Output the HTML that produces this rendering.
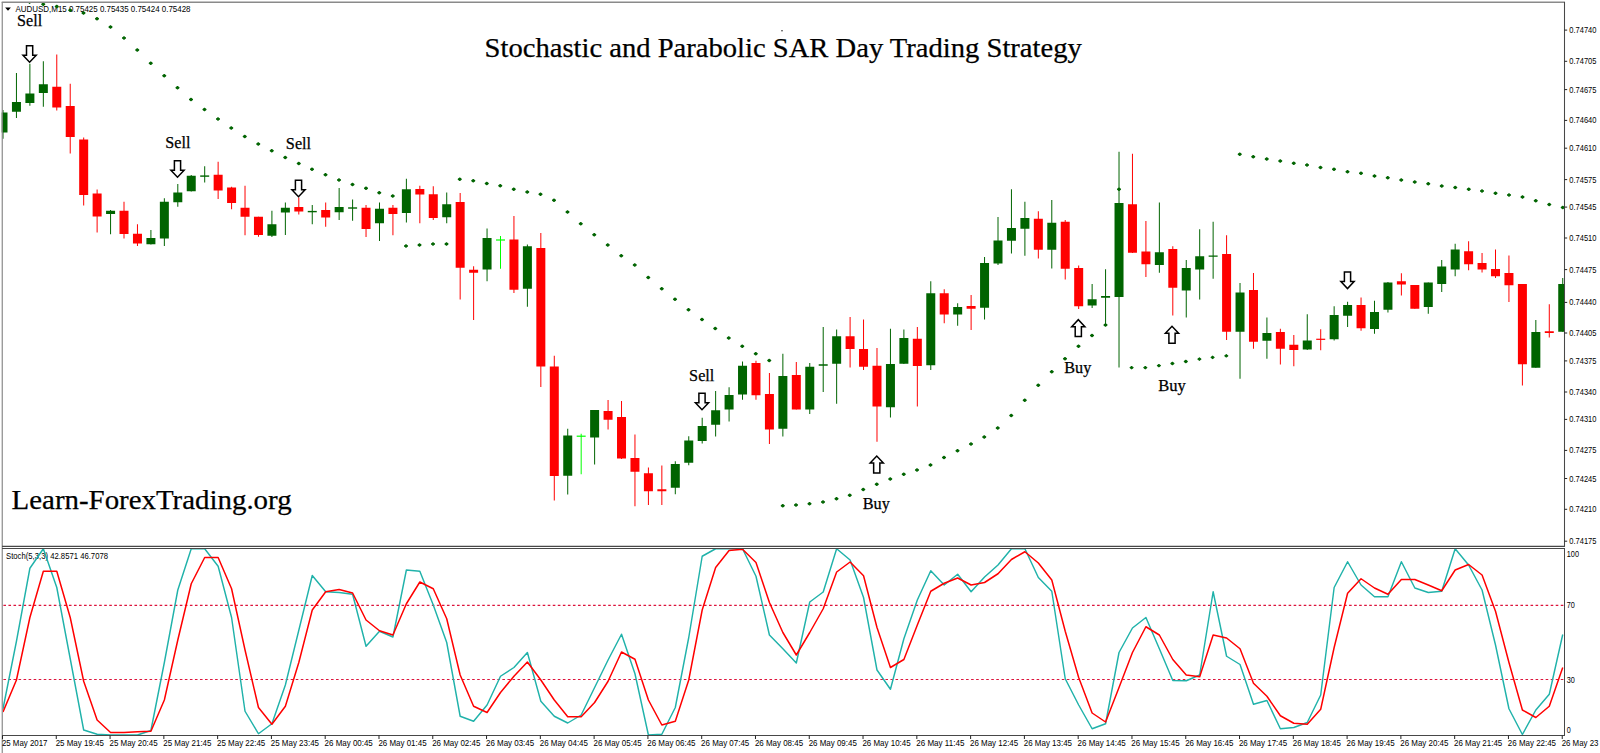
<!DOCTYPE html>
<html lang="en"><head><meta charset="utf-8"><title>Stochastic and Parabolic SAR Day Trading Strategy</title>
<style>html,body{margin:0;padding:0;background:#fff;overflow:hidden}svg{display:block}.ax{font-family:"Liberation Sans",sans-serif;font-size:8.4px;fill:#000}.pr{font-family:"Liberation Sans",sans-serif;font-size:9.2px;fill:#000}.se{font-family:"Liberation Serif",serif;fill:#000;stroke:#000;stroke-width:0.25px}</style></head><body>
<svg width="1600" height="753" viewBox="0 0 1600 753">
<rect width="1600" height="753" fill="#fff"/>
<defs><clipPath id="cm"><rect x="1.7" y="2.5" width="1562.8" height="543.5"/></clipPath><clipPath id="cs"><rect x="3" y="548.5" width="1561.5" height="186.8"/></clipPath><g id="ad"><path d="M-3.1 -8.2 H3.1 V1.3 H6.6 L0 8.3 L-6.6 1.3 H-3.1 Z" fill="#fff" stroke="#000" stroke-width="1.5" stroke-linejoin="miter"/></g><g id="au"><path d="M-3.1 8.6 H3.1 V-1.3 H6.6 L0 -8.3 L-6.6 -1.3 H-3.1 Z" fill="#fff" stroke="#000" stroke-width="1.5" stroke-linejoin="miter"/></g></defs>
<path d="M5.1 7.5 h5.8 l-2.9 3.3z" fill="#000"/>
<text class="ax" x="15.5" y="12.1" textLength="175" lengthAdjust="spacingAndGlyphs">AUDUSD,M15  0.75425 0.75435 0.75424 0.75428</text>
<text class="ax" x="6" y="559.2" textLength="102" lengthAdjust="spacingAndGlyphs">Stoch(5,3,3) 42.8571 46.7078</text>
<g clip-path="url(#cm)">
<line x1="3.00" y1="110.00" x2="3.00" y2="138.75" stroke="#006400" stroke-width="1"/>
<rect x="-1.50" y="112.50" width="9" height="20.00" fill="#006400"/>
<line x1="16.45" y1="73.00" x2="16.45" y2="118.00" stroke="#006400" stroke-width="1"/>
<rect x="11.95" y="102.00" width="9" height="9.75" fill="#006400"/>
<line x1="29.89" y1="63.75" x2="29.89" y2="105.75" stroke="#006400" stroke-width="1"/>
<rect x="25.39" y="93.50" width="9" height="9.50" fill="#006400"/>
<line x1="43.34" y1="61.25" x2="43.34" y2="106.75" stroke="#006400" stroke-width="1"/>
<rect x="38.84" y="84.25" width="9" height="8.75" fill="#006400"/>
<line x1="56.78" y1="54.50" x2="56.78" y2="110.50" stroke="#ff0000" stroke-width="1"/>
<rect x="52.28" y="86.75" width="9" height="20.75" fill="#ff0000"/>
<line x1="70.23" y1="83.75" x2="70.23" y2="153.50" stroke="#ff0000" stroke-width="1"/>
<rect x="65.73" y="106.00" width="9" height="31.00" fill="#ff0000"/>
<line x1="83.68" y1="137.50" x2="83.68" y2="205.50" stroke="#ff0000" stroke-width="1"/>
<rect x="79.18" y="139.50" width="9" height="55.50" fill="#ff0000"/>
<line x1="97.12" y1="189.50" x2="97.12" y2="232.50" stroke="#ff0000" stroke-width="1"/>
<rect x="92.62" y="193.50" width="9" height="23.00" fill="#ff0000"/>
<line x1="110.57" y1="210.00" x2="110.57" y2="234.25" stroke="#006400" stroke-width="1"/>
<rect x="106.07" y="210.75" width="9" height="3.25" fill="#006400"/>
<line x1="124.01" y1="201.75" x2="124.01" y2="238.50" stroke="#ff0000" stroke-width="1"/>
<rect x="119.51" y="210.75" width="9" height="23.25" fill="#ff0000"/>
<line x1="137.46" y1="224.25" x2="137.46" y2="246.00" stroke="#ff0000" stroke-width="1"/>
<rect x="132.96" y="233.75" width="9" height="9.75" fill="#ff0000"/>
<line x1="150.91" y1="230.00" x2="150.91" y2="244.50" stroke="#006400" stroke-width="1"/>
<rect x="146.41" y="238.00" width="9" height="6.25" fill="#006400"/>
<line x1="164.35" y1="198.25" x2="164.35" y2="246.00" stroke="#006400" stroke-width="1"/>
<rect x="159.85" y="201.75" width="9" height="36.75" fill="#006400"/>
<line x1="177.80" y1="184.00" x2="177.80" y2="206.75" stroke="#006400" stroke-width="1"/>
<rect x="173.30" y="192.50" width="9" height="9.75" fill="#006400"/>
<line x1="191.24" y1="175.00" x2="191.24" y2="191.50" stroke="#006400" stroke-width="1"/>
<rect x="186.74" y="175.75" width="9" height="15.50" fill="#006400"/>
<line x1="204.69" y1="166.25" x2="204.69" y2="182.50" stroke="#006400" stroke-width="1"/>
<rect x="200.19" y="175.40" width="9" height="1.40" fill="#006400"/>
<line x1="218.14" y1="161.75" x2="218.14" y2="199.00" stroke="#ff0000" stroke-width="1"/>
<rect x="213.64" y="174.75" width="9" height="15.75" fill="#ff0000"/>
<line x1="231.58" y1="186.75" x2="231.58" y2="209.25" stroke="#ff0000" stroke-width="1"/>
<rect x="227.08" y="187.50" width="9" height="15.50" fill="#ff0000"/>
<line x1="245.03" y1="185.75" x2="245.03" y2="235.25" stroke="#ff0000" stroke-width="1"/>
<rect x="240.53" y="207.75" width="9" height="9.00" fill="#ff0000"/>
<line x1="258.47" y1="216.75" x2="258.47" y2="236.75" stroke="#ff0000" stroke-width="1"/>
<rect x="253.97" y="216.75" width="9" height="18.25" fill="#ff0000"/>
<line x1="271.92" y1="210.75" x2="271.92" y2="237.00" stroke="#006400" stroke-width="1"/>
<rect x="267.42" y="224.25" width="9" height="11.50" fill="#006400"/>
<line x1="285.37" y1="202.50" x2="285.37" y2="235.00" stroke="#006400" stroke-width="1"/>
<rect x="280.87" y="207.75" width="9" height="4.75" fill="#006400"/>
<line x1="298.81" y1="197.50" x2="298.81" y2="214.50" stroke="#ff0000" stroke-width="1"/>
<rect x="294.31" y="207.00" width="9" height="4.50" fill="#ff0000"/>
<line x1="312.26" y1="205.00" x2="312.26" y2="224.25" stroke="#006400" stroke-width="1"/>
<rect x="307.76" y="210.90" width="9" height="1.40" fill="#006400"/>
<line x1="325.70" y1="202.50" x2="325.70" y2="226.75" stroke="#ff0000" stroke-width="1"/>
<rect x="321.20" y="210.00" width="9" height="7.50" fill="#ff0000"/>
<line x1="339.15" y1="188.00" x2="339.15" y2="220.00" stroke="#006400" stroke-width="1"/>
<rect x="334.65" y="207.00" width="9" height="5.25" fill="#006400"/>
<line x1="352.60" y1="199.50" x2="352.60" y2="220.75" stroke="#006400" stroke-width="1"/>
<rect x="348.10" y="207.30" width="9" height="1.40" fill="#006400"/>
<line x1="366.04" y1="205.00" x2="366.04" y2="237.00" stroke="#ff0000" stroke-width="1"/>
<rect x="361.54" y="207.75" width="9" height="21.25" fill="#ff0000"/>
<line x1="379.49" y1="202.50" x2="379.49" y2="241.00" stroke="#006400" stroke-width="1"/>
<rect x="374.99" y="208.75" width="9" height="14.50" fill="#006400"/>
<line x1="392.93" y1="205.00" x2="392.93" y2="235.25" stroke="#ff0000" stroke-width="1"/>
<rect x="388.43" y="207.75" width="9" height="6.25" fill="#ff0000"/>
<line x1="406.38" y1="178.75" x2="406.38" y2="222.50" stroke="#006400" stroke-width="1"/>
<rect x="401.88" y="189.25" width="9" height="23.75" fill="#006400"/>
<line x1="419.83" y1="185.75" x2="419.83" y2="223.25" stroke="#ff0000" stroke-width="1"/>
<rect x="415.33" y="189.00" width="9" height="5.50" fill="#ff0000"/>
<line x1="433.27" y1="186.25" x2="433.27" y2="220.00" stroke="#ff0000" stroke-width="1"/>
<rect x="428.77" y="194.25" width="9" height="23.75" fill="#ff0000"/>
<line x1="446.72" y1="192.50" x2="446.72" y2="223.25" stroke="#006400" stroke-width="1"/>
<rect x="442.22" y="204.25" width="9" height="13.00" fill="#006400"/>
<line x1="460.16" y1="193.00" x2="460.16" y2="299.50" stroke="#ff0000" stroke-width="1"/>
<rect x="455.66" y="202.00" width="9" height="65.75" fill="#ff0000"/>
<line x1="473.61" y1="266.25" x2="473.61" y2="320.00" stroke="#ff0000" stroke-width="1"/>
<rect x="469.11" y="269.75" width="9" height="3.00" fill="#ff0000"/>
<line x1="487.06" y1="228.50" x2="487.06" y2="281.25" stroke="#006400" stroke-width="1"/>
<rect x="482.56" y="238.00" width="9" height="31.50" fill="#006400"/>
<line x1="500.50" y1="236.00" x2="500.50" y2="268.75" stroke="#00ff00" stroke-width="1"/>
<rect x="496.00" y="239.40" width="9" height="1.20" fill="#00ff00"/>
<line x1="513.95" y1="216.00" x2="513.95" y2="293.00" stroke="#ff0000" stroke-width="1"/>
<rect x="509.45" y="239.50" width="9" height="50.25" fill="#ff0000"/>
<line x1="527.39" y1="244.50" x2="527.39" y2="306.75" stroke="#006400" stroke-width="1"/>
<rect x="522.89" y="246.25" width="9" height="42.50" fill="#006400"/>
<line x1="540.84" y1="233.00" x2="540.84" y2="387.00" stroke="#ff0000" stroke-width="1"/>
<rect x="536.34" y="248.00" width="9" height="118.50" fill="#ff0000"/>
<line x1="554.29" y1="355.75" x2="554.29" y2="500.50" stroke="#ff0000" stroke-width="1"/>
<rect x="549.79" y="366.50" width="9" height="109.50" fill="#ff0000"/>
<line x1="567.73" y1="428.75" x2="567.73" y2="494.50" stroke="#006400" stroke-width="1"/>
<rect x="563.23" y="435.50" width="9" height="40.25" fill="#006400"/>
<line x1="581.18" y1="433.75" x2="581.18" y2="474.25" stroke="#00ff00" stroke-width="1"/>
<rect x="576.68" y="435.60" width="9" height="1.20" fill="#00ff00"/>
<line x1="594.62" y1="410.00" x2="594.62" y2="464.50" stroke="#006400" stroke-width="1"/>
<rect x="590.12" y="410.00" width="9" height="27.50" fill="#006400"/>
<line x1="608.07" y1="400.00" x2="608.07" y2="429.50" stroke="#ff0000" stroke-width="1"/>
<rect x="603.57" y="411.00" width="9" height="8.75" fill="#ff0000"/>
<line x1="621.52" y1="401.00" x2="621.52" y2="459.00" stroke="#ff0000" stroke-width="1"/>
<rect x="617.02" y="417.00" width="9" height="41.50" fill="#ff0000"/>
<line x1="634.96" y1="434.50" x2="634.96" y2="506.25" stroke="#ff0000" stroke-width="1"/>
<rect x="630.46" y="458.00" width="9" height="13.75" fill="#ff0000"/>
<line x1="648.41" y1="467.50" x2="648.41" y2="505.00" stroke="#ff0000" stroke-width="1"/>
<rect x="643.91" y="473.25" width="9" height="18.00" fill="#ff0000"/>
<line x1="661.85" y1="465.50" x2="661.85" y2="505.00" stroke="#ff0000" stroke-width="1"/>
<rect x="657.35" y="489.25" width="9" height="2.00" fill="#ff0000"/>
<line x1="675.30" y1="461.25" x2="675.30" y2="494.25" stroke="#006400" stroke-width="1"/>
<rect x="670.80" y="464.00" width="9" height="23.75" fill="#006400"/>
<line x1="688.75" y1="436.25" x2="688.75" y2="465.25" stroke="#006400" stroke-width="1"/>
<rect x="684.25" y="440.50" width="9" height="22.25" fill="#006400"/>
<line x1="702.19" y1="417.75" x2="702.19" y2="443.50" stroke="#006400" stroke-width="1"/>
<rect x="697.69" y="426.00" width="9" height="15.00" fill="#006400"/>
<line x1="715.64" y1="391.00" x2="715.64" y2="436.50" stroke="#006400" stroke-width="1"/>
<rect x="711.14" y="410.25" width="9" height="14.50" fill="#006400"/>
<line x1="729.08" y1="387.25" x2="729.08" y2="421.50" stroke="#006400" stroke-width="1"/>
<rect x="724.58" y="395.00" width="9" height="14.50" fill="#006400"/>
<line x1="742.53" y1="361.50" x2="742.53" y2="399.75" stroke="#006400" stroke-width="1"/>
<rect x="738.03" y="365.75" width="9" height="28.75" fill="#006400"/>
<line x1="755.98" y1="360.75" x2="755.98" y2="399.75" stroke="#ff0000" stroke-width="1"/>
<rect x="751.48" y="363.00" width="9" height="32.25" fill="#ff0000"/>
<line x1="769.42" y1="373.00" x2="769.42" y2="444.00" stroke="#ff0000" stroke-width="1"/>
<rect x="764.92" y="394.00" width="9" height="35.50" fill="#ff0000"/>
<line x1="782.87" y1="353.75" x2="782.87" y2="436.50" stroke="#006400" stroke-width="1"/>
<rect x="778.37" y="376.00" width="9" height="52.75" fill="#006400"/>
<line x1="796.31" y1="362.00" x2="796.31" y2="409.50" stroke="#ff0000" stroke-width="1"/>
<rect x="791.81" y="375.00" width="9" height="34.50" fill="#ff0000"/>
<line x1="809.76" y1="363.00" x2="809.76" y2="414.00" stroke="#006400" stroke-width="1"/>
<rect x="805.26" y="366.75" width="9" height="42.75" fill="#006400"/>
<line x1="823.21" y1="327.00" x2="823.21" y2="392.00" stroke="#006400" stroke-width="1"/>
<rect x="818.71" y="364.25" width="9" height="1.50" fill="#006400"/>
<line x1="836.65" y1="329.50" x2="836.65" y2="403.75" stroke="#006400" stroke-width="1"/>
<rect x="832.15" y="336.25" width="9" height="27.50" fill="#006400"/>
<line x1="850.10" y1="317.00" x2="850.10" y2="367.50" stroke="#ff0000" stroke-width="1"/>
<rect x="845.60" y="336.25" width="9" height="12.75" fill="#ff0000"/>
<line x1="863.54" y1="319.50" x2="863.54" y2="370.00" stroke="#ff0000" stroke-width="1"/>
<rect x="859.04" y="349.00" width="9" height="17.75" fill="#ff0000"/>
<line x1="876.99" y1="348.00" x2="876.99" y2="441.75" stroke="#ff0000" stroke-width="1"/>
<rect x="872.49" y="365.75" width="9" height="40.75" fill="#ff0000"/>
<line x1="890.44" y1="328.75" x2="890.44" y2="417.50" stroke="#006400" stroke-width="1"/>
<rect x="885.94" y="364.00" width="9" height="43.25" fill="#006400"/>
<line x1="903.88" y1="329.50" x2="903.88" y2="364.00" stroke="#006400" stroke-width="1"/>
<rect x="899.38" y="338.00" width="9" height="25.75" fill="#006400"/>
<line x1="917.33" y1="327.00" x2="917.33" y2="406.50" stroke="#ff0000" stroke-width="1"/>
<rect x="912.83" y="338.75" width="9" height="27.25" fill="#ff0000"/>
<line x1="930.77" y1="281.25" x2="930.77" y2="370.00" stroke="#006400" stroke-width="1"/>
<rect x="926.27" y="293.25" width="9" height="72.00" fill="#006400"/>
<line x1="944.22" y1="289.25" x2="944.22" y2="323.25" stroke="#ff0000" stroke-width="1"/>
<rect x="939.72" y="293.25" width="9" height="21.25" fill="#ff0000"/>
<line x1="957.67" y1="303.25" x2="957.67" y2="325.75" stroke="#006400" stroke-width="1"/>
<rect x="953.17" y="307.00" width="9" height="7.50" fill="#006400"/>
<line x1="971.11" y1="295.00" x2="971.11" y2="330.00" stroke="#ff0000" stroke-width="1"/>
<rect x="966.61" y="306.00" width="9" height="2.75" fill="#ff0000"/>
<line x1="984.56" y1="257.00" x2="984.56" y2="319.50" stroke="#006400" stroke-width="1"/>
<rect x="980.06" y="263.00" width="9" height="44.75" fill="#006400"/>
<line x1="998.00" y1="217.00" x2="998.00" y2="265.00" stroke="#006400" stroke-width="1"/>
<rect x="993.50" y="240.50" width="9" height="23.00" fill="#006400"/>
<line x1="1011.45" y1="189.25" x2="1011.45" y2="253.50" stroke="#006400" stroke-width="1"/>
<rect x="1006.95" y="228.00" width="9" height="12.75" fill="#006400"/>
<line x1="1024.90" y1="201.75" x2="1024.90" y2="255.75" stroke="#006400" stroke-width="1"/>
<rect x="1020.40" y="218.00" width="9" height="10.75" fill="#006400"/>
<line x1="1038.34" y1="211.25" x2="1038.34" y2="258.50" stroke="#ff0000" stroke-width="1"/>
<rect x="1033.84" y="218.75" width="9" height="31.00" fill="#ff0000"/>
<line x1="1051.79" y1="200.00" x2="1051.79" y2="268.50" stroke="#006400" stroke-width="1"/>
<rect x="1047.29" y="222.75" width="9" height="27.00" fill="#006400"/>
<line x1="1065.23" y1="220.00" x2="1065.23" y2="279.50" stroke="#ff0000" stroke-width="1"/>
<rect x="1060.73" y="221.75" width="9" height="47.00" fill="#ff0000"/>
<line x1="1078.68" y1="265.50" x2="1078.68" y2="309.00" stroke="#ff0000" stroke-width="1"/>
<rect x="1074.18" y="268.00" width="9" height="38.25" fill="#ff0000"/>
<line x1="1092.13" y1="284.00" x2="1092.13" y2="308.00" stroke="#006400" stroke-width="1"/>
<rect x="1087.63" y="299.25" width="9" height="6.25" fill="#006400"/>
<line x1="1105.57" y1="269.25" x2="1105.57" y2="325.00" stroke="#006400" stroke-width="1"/>
<rect x="1101.07" y="296.00" width="9" height="1.75" fill="#006400"/>
<line x1="1119.02" y1="151.75" x2="1119.02" y2="367.50" stroke="#006400" stroke-width="1"/>
<rect x="1114.52" y="203.00" width="9" height="94.00" fill="#006400"/>
<line x1="1132.46" y1="153.75" x2="1132.46" y2="253.00" stroke="#ff0000" stroke-width="1"/>
<rect x="1127.96" y="204.25" width="9" height="48.50" fill="#ff0000"/>
<line x1="1145.91" y1="221.00" x2="1145.91" y2="277.00" stroke="#ff0000" stroke-width="1"/>
<rect x="1141.41" y="251.50" width="9" height="12.75" fill="#ff0000"/>
<line x1="1159.36" y1="202.50" x2="1159.36" y2="272.75" stroke="#006400" stroke-width="1"/>
<rect x="1154.86" y="252.25" width="9" height="12.75" fill="#006400"/>
<line x1="1172.80" y1="246.25" x2="1172.80" y2="315.50" stroke="#ff0000" stroke-width="1"/>
<rect x="1168.30" y="249.00" width="9" height="38.75" fill="#ff0000"/>
<line x1="1186.25" y1="260.00" x2="1186.25" y2="317.50" stroke="#006400" stroke-width="1"/>
<rect x="1181.75" y="268.00" width="9" height="22.50" fill="#006400"/>
<line x1="1199.69" y1="229.25" x2="1199.69" y2="299.50" stroke="#006400" stroke-width="1"/>
<rect x="1195.19" y="256.25" width="9" height="13.25" fill="#006400"/>
<line x1="1213.14" y1="221.75" x2="1213.14" y2="278.75" stroke="#006400" stroke-width="1"/>
<rect x="1208.64" y="255.50" width="9" height="1.25" fill="#006400"/>
<line x1="1226.59" y1="235.25" x2="1226.59" y2="340.00" stroke="#ff0000" stroke-width="1"/>
<rect x="1222.09" y="254.00" width="9" height="77.75" fill="#ff0000"/>
<line x1="1240.03" y1="283.00" x2="1240.03" y2="378.75" stroke="#006400" stroke-width="1"/>
<rect x="1235.53" y="292.50" width="9" height="39.25" fill="#006400"/>
<line x1="1253.48" y1="273.00" x2="1253.48" y2="348.75" stroke="#ff0000" stroke-width="1"/>
<rect x="1248.98" y="290.00" width="9" height="51.75" fill="#ff0000"/>
<line x1="1266.92" y1="317.50" x2="1266.92" y2="358.75" stroke="#006400" stroke-width="1"/>
<rect x="1262.42" y="333.00" width="9" height="7.75" fill="#006400"/>
<line x1="1280.37" y1="328.75" x2="1280.37" y2="364.50" stroke="#ff0000" stroke-width="1"/>
<rect x="1275.87" y="332.00" width="9" height="16.75" fill="#ff0000"/>
<line x1="1293.82" y1="335.00" x2="1293.82" y2="366.25" stroke="#ff0000" stroke-width="1"/>
<rect x="1289.32" y="344.75" width="9" height="5.25" fill="#ff0000"/>
<line x1="1307.26" y1="314.25" x2="1307.26" y2="350.00" stroke="#006400" stroke-width="1"/>
<rect x="1302.76" y="340.50" width="9" height="9.00" fill="#006400"/>
<line x1="1320.71" y1="329.25" x2="1320.71" y2="350.25" stroke="#ff0000" stroke-width="1"/>
<rect x="1316.21" y="338.70" width="9" height="1.20" fill="#ff0000"/>
<line x1="1334.15" y1="306.25" x2="1334.15" y2="340.50" stroke="#006400" stroke-width="1"/>
<rect x="1329.65" y="315.00" width="9" height="24.25" fill="#006400"/>
<line x1="1347.60" y1="301.75" x2="1347.60" y2="327.00" stroke="#006400" stroke-width="1"/>
<rect x="1343.10" y="305.00" width="9" height="10.75" fill="#006400"/>
<line x1="1361.05" y1="297.50" x2="1361.05" y2="330.75" stroke="#ff0000" stroke-width="1"/>
<rect x="1356.55" y="305.00" width="9" height="23.25" fill="#ff0000"/>
<line x1="1374.49" y1="300.75" x2="1374.49" y2="333.75" stroke="#006400" stroke-width="1"/>
<rect x="1369.99" y="312.00" width="9" height="17.00" fill="#006400"/>
<line x1="1387.94" y1="282.00" x2="1387.94" y2="312.50" stroke="#006400" stroke-width="1"/>
<rect x="1383.44" y="282.50" width="9" height="27.25" fill="#006400"/>
<line x1="1401.38" y1="273.25" x2="1401.38" y2="295.50" stroke="#ff0000" stroke-width="1"/>
<rect x="1396.88" y="281.25" width="9" height="3.25" fill="#ff0000"/>
<line x1="1414.83" y1="285.00" x2="1414.83" y2="308.75" stroke="#ff0000" stroke-width="1"/>
<rect x="1410.33" y="285.00" width="9" height="23.75" fill="#ff0000"/>
<line x1="1428.28" y1="282.50" x2="1428.28" y2="313.75" stroke="#006400" stroke-width="1"/>
<rect x="1423.78" y="282.50" width="9" height="24.50" fill="#006400"/>
<line x1="1441.72" y1="260.00" x2="1441.72" y2="292.00" stroke="#006400" stroke-width="1"/>
<rect x="1437.22" y="266.50" width="9" height="17.50" fill="#006400"/>
<line x1="1455.17" y1="243.75" x2="1455.17" y2="276.25" stroke="#006400" stroke-width="1"/>
<rect x="1450.67" y="249.50" width="9" height="20.00" fill="#006400"/>
<line x1="1468.61" y1="241.25" x2="1468.61" y2="270.25" stroke="#ff0000" stroke-width="1"/>
<rect x="1464.11" y="251.25" width="9" height="13.00" fill="#ff0000"/>
<line x1="1482.06" y1="253.00" x2="1482.06" y2="272.50" stroke="#ff0000" stroke-width="1"/>
<rect x="1477.56" y="263.00" width="9" height="6.50" fill="#ff0000"/>
<line x1="1495.51" y1="249.50" x2="1495.51" y2="278.00" stroke="#ff0000" stroke-width="1"/>
<rect x="1491.01" y="269.00" width="9" height="7.25" fill="#ff0000"/>
<line x1="1508.95" y1="255.50" x2="1508.95" y2="302.00" stroke="#ff0000" stroke-width="1"/>
<rect x="1504.45" y="273.00" width="9" height="12.25" fill="#ff0000"/>
<line x1="1522.40" y1="284.00" x2="1522.40" y2="385.50" stroke="#ff0000" stroke-width="1"/>
<rect x="1517.90" y="284.00" width="9" height="80.25" fill="#ff0000"/>
<line x1="1535.84" y1="320.00" x2="1535.84" y2="367.75" stroke="#006400" stroke-width="1"/>
<rect x="1531.34" y="332.00" width="9" height="35.75" fill="#006400"/>
<line x1="1549.29" y1="304.25" x2="1549.29" y2="337.50" stroke="#ff0000" stroke-width="1"/>
<rect x="1544.79" y="331.25" width="9" height="1.75" fill="#ff0000"/>
<line x1="1562.74" y1="278.00" x2="1562.74" y2="331.75" stroke="#006400" stroke-width="1"/>
<rect x="1558.24" y="284.00" width="9" height="47.75" fill="#006400"/>
<path d="M28.05 2.20 l1.55 -1.25 l1.55 1.25 l-1.55 1.25z" fill="#006400" stroke="#006400" stroke-width="1.05" stroke-linejoin="round"/>
<path d="M41.70 4.25 l1.55 -1.25 l1.55 1.25 l-1.55 1.25z" fill="#006400" stroke="#006400" stroke-width="1.05" stroke-linejoin="round"/>
<path d="M55.20 6.50 l1.55 -1.25 l1.55 1.25 l-1.55 1.25z" fill="#006400" stroke="#006400" stroke-width="1.05" stroke-linejoin="round"/>
<path d="M68.70 10.25 l1.55 -1.25 l1.55 1.25 l-1.55 1.25z" fill="#006400" stroke="#006400" stroke-width="1.05" stroke-linejoin="round"/>
<path d="M81.95 13.00 l1.55 -1.25 l1.55 1.25 l-1.55 1.25z" fill="#006400" stroke="#006400" stroke-width="1.05" stroke-linejoin="round"/>
<path d="M95.45 18.75 l1.55 -1.25 l1.55 1.25 l-1.55 1.25z" fill="#006400" stroke="#006400" stroke-width="1.05" stroke-linejoin="round"/>
<path d="M108.95 27.00 l1.55 -1.25 l1.55 1.25 l-1.55 1.25z" fill="#006400" stroke="#006400" stroke-width="1.05" stroke-linejoin="round"/>
<path d="M122.45 38.00 l1.55 -1.25 l1.55 1.25 l-1.55 1.25z" fill="#006400" stroke="#006400" stroke-width="1.05" stroke-linejoin="round"/>
<path d="M135.70 50.00 l1.55 -1.25 l1.55 1.25 l-1.55 1.25z" fill="#006400" stroke="#006400" stroke-width="1.05" stroke-linejoin="round"/>
<path d="M149.20 63.25 l1.55 -1.25 l1.55 1.25 l-1.55 1.25z" fill="#006400" stroke="#006400" stroke-width="1.05" stroke-linejoin="round"/>
<path d="M162.70 75.75 l1.55 -1.25 l1.55 1.25 l-1.55 1.25z" fill="#006400" stroke="#006400" stroke-width="1.05" stroke-linejoin="round"/>
<path d="M175.95 87.75 l1.55 -1.25 l1.55 1.25 l-1.55 1.25z" fill="#006400" stroke="#006400" stroke-width="1.05" stroke-linejoin="round"/>
<path d="M189.45 99.50 l1.55 -1.25 l1.55 1.25 l-1.55 1.25z" fill="#006400" stroke="#006400" stroke-width="1.05" stroke-linejoin="round"/>
<path d="M202.95 109.50 l1.55 -1.25 l1.55 1.25 l-1.55 1.25z" fill="#006400" stroke="#006400" stroke-width="1.05" stroke-linejoin="round"/>
<path d="M216.45 119.00 l1.55 -1.25 l1.55 1.25 l-1.55 1.25z" fill="#006400" stroke="#006400" stroke-width="1.05" stroke-linejoin="round"/>
<path d="M229.70 128.00 l1.55 -1.25 l1.55 1.25 l-1.55 1.25z" fill="#006400" stroke="#006400" stroke-width="1.05" stroke-linejoin="round"/>
<path d="M243.20 136.50 l1.55 -1.25 l1.55 1.25 l-1.55 1.25z" fill="#006400" stroke="#006400" stroke-width="1.05" stroke-linejoin="round"/>
<path d="M256.70 144.00 l1.55 -1.25 l1.55 1.25 l-1.55 1.25z" fill="#006400" stroke="#006400" stroke-width="1.05" stroke-linejoin="round"/>
<path d="M270.20 150.75 l1.55 -1.25 l1.55 1.25 l-1.55 1.25z" fill="#006400" stroke="#006400" stroke-width="1.05" stroke-linejoin="round"/>
<path d="M283.70 157.50 l1.55 -1.25 l1.55 1.25 l-1.55 1.25z" fill="#006400" stroke="#006400" stroke-width="1.05" stroke-linejoin="round"/>
<path d="M297.20 163.50 l1.55 -1.25 l1.55 1.25 l-1.55 1.25z" fill="#006400" stroke="#006400" stroke-width="1.05" stroke-linejoin="round"/>
<path d="M310.45 169.25 l1.55 -1.25 l1.55 1.25 l-1.55 1.25z" fill="#006400" stroke="#006400" stroke-width="1.05" stroke-linejoin="round"/>
<path d="M323.95 174.75 l1.55 -1.25 l1.55 1.25 l-1.55 1.25z" fill="#006400" stroke="#006400" stroke-width="1.05" stroke-linejoin="round"/>
<path d="M337.45 180.00 l1.55 -1.25 l1.55 1.25 l-1.55 1.25z" fill="#006400" stroke="#006400" stroke-width="1.05" stroke-linejoin="round"/>
<path d="M350.95 184.50 l1.55 -1.25 l1.55 1.25 l-1.55 1.25z" fill="#006400" stroke="#006400" stroke-width="1.05" stroke-linejoin="round"/>
<path d="M364.45 188.25 l1.55 -1.25 l1.55 1.25 l-1.55 1.25z" fill="#006400" stroke="#006400" stroke-width="1.05" stroke-linejoin="round"/>
<path d="M377.70 192.75 l1.55 -1.25 l1.55 1.25 l-1.55 1.25z" fill="#006400" stroke="#006400" stroke-width="1.05" stroke-linejoin="round"/>
<path d="M391.20 196.00 l1.55 -1.25 l1.55 1.25 l-1.55 1.25z" fill="#006400" stroke="#006400" stroke-width="1.05" stroke-linejoin="round"/>
<path d="M404.45 246.00 l1.55 -1.25 l1.55 1.25 l-1.55 1.25z" fill="#006400" stroke="#006400" stroke-width="1.05" stroke-linejoin="round"/>
<path d="M417.95 245.00 l1.55 -1.25 l1.55 1.25 l-1.55 1.25z" fill="#006400" stroke="#006400" stroke-width="1.05" stroke-linejoin="round"/>
<path d="M431.45 244.00 l1.55 -1.25 l1.55 1.25 l-1.55 1.25z" fill="#006400" stroke="#006400" stroke-width="1.05" stroke-linejoin="round"/>
<path d="M444.95 244.00 l1.55 -1.25 l1.55 1.25 l-1.55 1.25z" fill="#006400" stroke="#006400" stroke-width="1.05" stroke-linejoin="round"/>
<path d="M458.20 179.25 l1.55 -1.25 l1.55 1.25 l-1.55 1.25z" fill="#006400" stroke="#006400" stroke-width="1.05" stroke-linejoin="round"/>
<path d="M471.70 180.75 l1.55 -1.25 l1.55 1.25 l-1.55 1.25z" fill="#006400" stroke="#006400" stroke-width="1.05" stroke-linejoin="round"/>
<path d="M485.20 183.50 l1.55 -1.25 l1.55 1.25 l-1.55 1.25z" fill="#006400" stroke="#006400" stroke-width="1.05" stroke-linejoin="round"/>
<path d="M498.70 185.75 l1.55 -1.25 l1.55 1.25 l-1.55 1.25z" fill="#006400" stroke="#006400" stroke-width="1.05" stroke-linejoin="round"/>
<path d="M512.20 189.25 l1.55 -1.25 l1.55 1.25 l-1.55 1.25z" fill="#006400" stroke="#006400" stroke-width="1.05" stroke-linejoin="round"/>
<path d="M525.70 192.00 l1.55 -1.25 l1.55 1.25 l-1.55 1.25z" fill="#006400" stroke="#006400" stroke-width="1.05" stroke-linejoin="round"/>
<path d="M538.95 194.25 l1.55 -1.25 l1.55 1.25 l-1.55 1.25z" fill="#006400" stroke="#006400" stroke-width="1.05" stroke-linejoin="round"/>
<path d="M552.45 200.25 l1.55 -1.25 l1.55 1.25 l-1.55 1.25z" fill="#006400" stroke="#006400" stroke-width="1.05" stroke-linejoin="round"/>
<path d="M565.95 212.00 l1.55 -1.25 l1.55 1.25 l-1.55 1.25z" fill="#006400" stroke="#006400" stroke-width="1.05" stroke-linejoin="round"/>
<path d="M579.20 223.75 l1.55 -1.25 l1.55 1.25 l-1.55 1.25z" fill="#006400" stroke="#006400" stroke-width="1.05" stroke-linejoin="round"/>
<path d="M592.70 234.75 l1.55 -1.25 l1.55 1.25 l-1.55 1.25z" fill="#006400" stroke="#006400" stroke-width="1.05" stroke-linejoin="round"/>
<path d="M606.20 245.00 l1.55 -1.25 l1.55 1.25 l-1.55 1.25z" fill="#006400" stroke="#006400" stroke-width="1.05" stroke-linejoin="round"/>
<path d="M619.70 255.75 l1.55 -1.25 l1.55 1.25 l-1.55 1.25z" fill="#006400" stroke="#006400" stroke-width="1.05" stroke-linejoin="round"/>
<path d="M633.20 265.00 l1.55 -1.25 l1.55 1.25 l-1.55 1.25z" fill="#006400" stroke="#006400" stroke-width="1.05" stroke-linejoin="round"/>
<path d="M646.70 277.50 l1.55 -1.25 l1.55 1.25 l-1.55 1.25z" fill="#006400" stroke="#006400" stroke-width="1.05" stroke-linejoin="round"/>
<path d="M660.20 288.75 l1.55 -1.25 l1.55 1.25 l-1.55 1.25z" fill="#006400" stroke="#006400" stroke-width="1.05" stroke-linejoin="round"/>
<path d="M673.45 299.25 l1.55 -1.25 l1.55 1.25 l-1.55 1.25z" fill="#006400" stroke="#006400" stroke-width="1.05" stroke-linejoin="round"/>
<path d="M686.95 309.75 l1.55 -1.25 l1.55 1.25 l-1.55 1.25z" fill="#006400" stroke="#006400" stroke-width="1.05" stroke-linejoin="round"/>
<path d="M700.45 319.50 l1.55 -1.25 l1.55 1.25 l-1.55 1.25z" fill="#006400" stroke="#006400" stroke-width="1.05" stroke-linejoin="round"/>
<path d="M713.70 328.50 l1.55 -1.25 l1.55 1.25 l-1.55 1.25z" fill="#006400" stroke="#006400" stroke-width="1.05" stroke-linejoin="round"/>
<path d="M727.20 338.00 l1.55 -1.25 l1.55 1.25 l-1.55 1.25z" fill="#006400" stroke="#006400" stroke-width="1.05" stroke-linejoin="round"/>
<path d="M740.70 346.25 l1.55 -1.25 l1.55 1.25 l-1.55 1.25z" fill="#006400" stroke="#006400" stroke-width="1.05" stroke-linejoin="round"/>
<path d="M754.20 353.75 l1.55 -1.25 l1.55 1.25 l-1.55 1.25z" fill="#006400" stroke="#006400" stroke-width="1.05" stroke-linejoin="round"/>
<path d="M767.70 360.50 l1.55 -1.25 l1.55 1.25 l-1.55 1.25z" fill="#006400" stroke="#006400" stroke-width="1.05" stroke-linejoin="round"/>
<path d="M781.20 505.75 l1.55 -1.25 l1.55 1.25 l-1.55 1.25z" fill="#006400" stroke="#006400" stroke-width="1.05" stroke-linejoin="round"/>
<path d="M794.45 505.00 l1.55 -1.25 l1.55 1.25 l-1.55 1.25z" fill="#006400" stroke="#006400" stroke-width="1.05" stroke-linejoin="round"/>
<path d="M807.95 503.75 l1.55 -1.25 l1.55 1.25 l-1.55 1.25z" fill="#006400" stroke="#006400" stroke-width="1.05" stroke-linejoin="round"/>
<path d="M821.45 502.00 l1.55 -1.25 l1.55 1.25 l-1.55 1.25z" fill="#006400" stroke="#006400" stroke-width="1.05" stroke-linejoin="round"/>
<path d="M834.95 498.75 l1.55 -1.25 l1.55 1.25 l-1.55 1.25z" fill="#006400" stroke="#006400" stroke-width="1.05" stroke-linejoin="round"/>
<path d="M848.20 495.25 l1.55 -1.25 l1.55 1.25 l-1.55 1.25z" fill="#006400" stroke="#006400" stroke-width="1.05" stroke-linejoin="round"/>
<path d="M861.70 489.50 l1.55 -1.25 l1.55 1.25 l-1.55 1.25z" fill="#006400" stroke="#006400" stroke-width="1.05" stroke-linejoin="round"/>
<path d="M875.20 484.25 l1.55 -1.25 l1.55 1.25 l-1.55 1.25z" fill="#006400" stroke="#006400" stroke-width="1.05" stroke-linejoin="round"/>
<path d="M888.70 479.00 l1.55 -1.25 l1.55 1.25 l-1.55 1.25z" fill="#006400" stroke="#006400" stroke-width="1.05" stroke-linejoin="round"/>
<path d="M902.20 474.25 l1.55 -1.25 l1.55 1.25 l-1.55 1.25z" fill="#006400" stroke="#006400" stroke-width="1.05" stroke-linejoin="round"/>
<path d="M915.45 470.00 l1.55 -1.25 l1.55 1.25 l-1.55 1.25z" fill="#006400" stroke="#006400" stroke-width="1.05" stroke-linejoin="round"/>
<path d="M928.95 465.00 l1.55 -1.25 l1.55 1.25 l-1.55 1.25z" fill="#006400" stroke="#006400" stroke-width="1.05" stroke-linejoin="round"/>
<path d="M942.45 457.50 l1.55 -1.25 l1.55 1.25 l-1.55 1.25z" fill="#006400" stroke="#006400" stroke-width="1.05" stroke-linejoin="round"/>
<path d="M955.95 450.75 l1.55 -1.25 l1.55 1.25 l-1.55 1.25z" fill="#006400" stroke="#006400" stroke-width="1.05" stroke-linejoin="round"/>
<path d="M969.45 444.00 l1.55 -1.25 l1.55 1.25 l-1.55 1.25z" fill="#006400" stroke="#006400" stroke-width="1.05" stroke-linejoin="round"/>
<path d="M982.70 437.00 l1.55 -1.25 l1.55 1.25 l-1.55 1.25z" fill="#006400" stroke="#006400" stroke-width="1.05" stroke-linejoin="round"/>
<path d="M996.20 428.00 l1.55 -1.25 l1.55 1.25 l-1.55 1.25z" fill="#006400" stroke="#006400" stroke-width="1.05" stroke-linejoin="round"/>
<path d="M1009.70 415.50 l1.55 -1.25 l1.55 1.25 l-1.55 1.25z" fill="#006400" stroke="#006400" stroke-width="1.05" stroke-linejoin="round"/>
<path d="M1023.20 400.25 l1.55 -1.25 l1.55 1.25 l-1.55 1.25z" fill="#006400" stroke="#006400" stroke-width="1.05" stroke-linejoin="round"/>
<path d="M1036.70 385.25 l1.55 -1.25 l1.55 1.25 l-1.55 1.25z" fill="#006400" stroke="#006400" stroke-width="1.05" stroke-linejoin="round"/>
<path d="M1050.20 371.75 l1.55 -1.25 l1.55 1.25 l-1.55 1.25z" fill="#006400" stroke="#006400" stroke-width="1.05" stroke-linejoin="round"/>
<path d="M1063.45 358.75 l1.55 -1.25 l1.55 1.25 l-1.55 1.25z" fill="#006400" stroke="#006400" stroke-width="1.05" stroke-linejoin="round"/>
<path d="M1076.95 346.25 l1.55 -1.25 l1.55 1.25 l-1.55 1.25z" fill="#006400" stroke="#006400" stroke-width="1.05" stroke-linejoin="round"/>
<path d="M1090.45 335.50 l1.55 -1.25 l1.55 1.25 l-1.55 1.25z" fill="#006400" stroke="#006400" stroke-width="1.05" stroke-linejoin="round"/>
<path d="M1103.95 325.00 l1.55 -1.25 l1.55 1.25 l-1.55 1.25z" fill="#006400" stroke="#006400" stroke-width="1.05" stroke-linejoin="round"/>
<path d="M1117.45 189.25 l1.55 -1.25 l1.55 1.25 l-1.55 1.25z" fill="#006400" stroke="#006400" stroke-width="1.05" stroke-linejoin="round"/>
<path d="M1130.05 367.70 l1.55 -1.25 l1.55 1.25 l-1.55 1.25z" fill="#006400" stroke="#006400" stroke-width="1.05" stroke-linejoin="round"/>
<path d="M1143.75 367.70 l1.55 -1.25 l1.55 1.25 l-1.55 1.25z" fill="#006400" stroke="#006400" stroke-width="1.05" stroke-linejoin="round"/>
<path d="M1157.35 365.70 l1.55 -1.25 l1.55 1.25 l-1.55 1.25z" fill="#006400" stroke="#006400" stroke-width="1.05" stroke-linejoin="round"/>
<path d="M1170.85 363.50 l1.55 -1.25 l1.55 1.25 l-1.55 1.25z" fill="#006400" stroke="#006400" stroke-width="1.05" stroke-linejoin="round"/>
<path d="M1184.25 361.50 l1.55 -1.25 l1.55 1.25 l-1.55 1.25z" fill="#006400" stroke="#006400" stroke-width="1.05" stroke-linejoin="round"/>
<path d="M1197.85 359.10 l1.55 -1.25 l1.55 1.25 l-1.55 1.25z" fill="#006400" stroke="#006400" stroke-width="1.05" stroke-linejoin="round"/>
<path d="M1211.05 357.40 l1.55 -1.25 l1.55 1.25 l-1.55 1.25z" fill="#006400" stroke="#006400" stroke-width="1.05" stroke-linejoin="round"/>
<path d="M1224.75 355.80 l1.55 -1.25 l1.55 1.25 l-1.55 1.25z" fill="#006400" stroke="#006400" stroke-width="1.05" stroke-linejoin="round"/>
<path d="M1238.20 154.25 l1.55 -1.25 l1.55 1.25 l-1.55 1.25z" fill="#006400" stroke="#006400" stroke-width="1.05" stroke-linejoin="round"/>
<path d="M1251.70 156.75 l1.55 -1.25 l1.55 1.25 l-1.55 1.25z" fill="#006400" stroke="#006400" stroke-width="1.05" stroke-linejoin="round"/>
<path d="M1265.20 159.00 l1.55 -1.25 l1.55 1.25 l-1.55 1.25z" fill="#006400" stroke="#006400" stroke-width="1.05" stroke-linejoin="round"/>
<path d="M1278.70 161.00 l1.55 -1.25 l1.55 1.25 l-1.55 1.25z" fill="#006400" stroke="#006400" stroke-width="1.05" stroke-linejoin="round"/>
<path d="M1292.20 163.25 l1.55 -1.25 l1.55 1.25 l-1.55 1.25z" fill="#006400" stroke="#006400" stroke-width="1.05" stroke-linejoin="round"/>
<path d="M1305.45 165.00 l1.55 -1.25 l1.55 1.25 l-1.55 1.25z" fill="#006400" stroke="#006400" stroke-width="1.05" stroke-linejoin="round"/>
<path d="M1318.95 167.50 l1.55 -1.25 l1.55 1.25 l-1.55 1.25z" fill="#006400" stroke="#006400" stroke-width="1.05" stroke-linejoin="round"/>
<path d="M1332.45 169.25 l1.55 -1.25 l1.55 1.25 l-1.55 1.25z" fill="#006400" stroke="#006400" stroke-width="1.05" stroke-linejoin="round"/>
<path d="M1345.95 171.75 l1.55 -1.25 l1.55 1.25 l-1.55 1.25z" fill="#006400" stroke="#006400" stroke-width="1.05" stroke-linejoin="round"/>
<path d="M1359.45 173.25 l1.55 -1.25 l1.55 1.25 l-1.55 1.25z" fill="#006400" stroke="#006400" stroke-width="1.05" stroke-linejoin="round"/>
<path d="M1372.95 176.00 l1.55 -1.25 l1.55 1.25 l-1.55 1.25z" fill="#006400" stroke="#006400" stroke-width="1.05" stroke-linejoin="round"/>
<path d="M1386.20 177.75 l1.55 -1.25 l1.55 1.25 l-1.55 1.25z" fill="#006400" stroke="#006400" stroke-width="1.05" stroke-linejoin="round"/>
<path d="M1399.70 180.00 l1.55 -1.25 l1.55 1.25 l-1.55 1.25z" fill="#006400" stroke="#006400" stroke-width="1.05" stroke-linejoin="round"/>
<path d="M1413.20 182.00 l1.55 -1.25 l1.55 1.25 l-1.55 1.25z" fill="#006400" stroke="#006400" stroke-width="1.05" stroke-linejoin="round"/>
<path d="M1426.70 183.75 l1.55 -1.25 l1.55 1.25 l-1.55 1.25z" fill="#006400" stroke="#006400" stroke-width="1.05" stroke-linejoin="round"/>
<path d="M1440.20 186.00 l1.55 -1.25 l1.55 1.25 l-1.55 1.25z" fill="#006400" stroke="#006400" stroke-width="1.05" stroke-linejoin="round"/>
<path d="M1453.70 187.50 l1.55 -1.25 l1.55 1.25 l-1.55 1.25z" fill="#006400" stroke="#006400" stroke-width="1.05" stroke-linejoin="round"/>
<path d="M1467.20 189.25 l1.55 -1.25 l1.55 1.25 l-1.55 1.25z" fill="#006400" stroke="#006400" stroke-width="1.05" stroke-linejoin="round"/>
<path d="M1480.45 191.00 l1.55 -1.25 l1.55 1.25 l-1.55 1.25z" fill="#006400" stroke="#006400" stroke-width="1.05" stroke-linejoin="round"/>
<path d="M1493.95 193.25 l1.55 -1.25 l1.55 1.25 l-1.55 1.25z" fill="#006400" stroke="#006400" stroke-width="1.05" stroke-linejoin="round"/>
<path d="M1507.45 195.00 l1.55 -1.25 l1.55 1.25 l-1.55 1.25z" fill="#006400" stroke="#006400" stroke-width="1.05" stroke-linejoin="round"/>
<path d="M1520.95 197.00 l1.55 -1.25 l1.55 1.25 l-1.55 1.25z" fill="#006400" stroke="#006400" stroke-width="1.05" stroke-linejoin="round"/>
<path d="M1534.20 200.75 l1.55 -1.25 l1.55 1.25 l-1.55 1.25z" fill="#006400" stroke="#006400" stroke-width="1.05" stroke-linejoin="round"/>
<path d="M1547.70 204.50 l1.55 -1.25 l1.55 1.25 l-1.55 1.25z" fill="#006400" stroke="#006400" stroke-width="1.05" stroke-linejoin="round"/>
<path d="M1561.20 207.50 l1.55 -1.25 l1.55 1.25 l-1.55 1.25z" fill="#006400" stroke="#006400" stroke-width="1.05" stroke-linejoin="round"/>
</g>
<g clip-path="url(#cs)" fill="none" stroke-linejoin="round">
<line x1="-1.64" y1="605.4" x2="1564" y2="605.4" stroke="#dc143c" stroke-width="1.15" stroke-dasharray="2.6 2.44"/>
<line x1="-1.64" y1="679.5" x2="1564" y2="679.5" stroke="#dc143c" stroke-width="1.15" stroke-dasharray="2.6 2.44"/>
<polyline points="3.00,708.75 16.45,641.25 29.89,568.25 43.34,548.75 56.78,587.50 70.23,658.75 83.68,730.00 97.12,734.25 110.57,735.00 124.01,735.00 137.46,735.00 150.91,730.50 164.35,662.50 177.80,590.00 191.24,548.75 204.69,548.75 218.14,566.25 231.58,617.50 245.03,711.25 258.47,733.75 271.92,723.75 285.37,685.00 298.81,630.25 312.26,575.50 325.70,591.75 339.15,592.50 352.60,594.25 366.04,646.25 379.49,631.25 392.93,637.00 406.38,570.00 419.83,571.25 433.27,605.00 446.72,642.50 460.16,716.25 473.61,721.25 487.06,705.00 500.50,676.25 513.95,667.50 527.39,652.50 540.84,701.25 554.29,716.25 567.73,723.00 581.18,715.00 594.62,687.50 608.07,660.00 621.52,634.25 634.96,673.75 648.41,735.00 661.85,734.25 675.30,707.50 688.75,637.50 702.19,556.25 715.64,548.75 729.08,548.75 742.53,548.75 755.98,576.25 769.42,635.00 782.87,648.75 796.31,663.00 809.76,602.00 823.21,592.00 836.65,548.75 850.10,560.00 863.54,597.50 876.99,670.00 890.44,689.25 903.88,638.75 917.33,600.00 930.77,570.75 944.22,585.00 957.67,574.25 971.11,591.75 984.56,577.00 998.00,565.00 1011.45,548.75 1024.90,548.75 1038.34,577.50 1051.79,591.25 1065.23,678.75 1078.68,705.00 1092.13,728.75 1105.57,723.75 1119.02,652.50 1132.46,628.00 1145.91,617.50 1159.36,648.75 1172.80,680.50 1186.25,680.75 1199.69,675.00 1213.14,591.75 1226.59,656.25 1240.03,664.50 1253.48,704.25 1266.92,700.50 1280.37,728.75 1293.82,727.50 1307.26,722.50 1320.71,695.00 1334.15,587.50 1347.60,561.75 1361.05,585.00 1374.49,596.75 1387.94,596.75 1401.38,561.75 1414.83,588.00 1428.28,592.50 1441.72,591.25 1455.17,548.75 1468.61,565.00 1482.06,590.00 1495.51,645.00 1508.95,708.75 1522.40,734.50 1535.84,710.00 1549.29,694.25 1562.74,634.50" stroke="#20b2aa" stroke-width="1.45"/>
<polyline points="3.00,712.00 16.45,680.00 29.89,617.50 43.34,571.25 56.78,571.25 70.23,617.50 83.68,681.25 97.12,720.00 110.57,732.50 124.01,732.50 137.46,731.75 150.91,731.25 164.35,700.00 177.80,640.00 191.24,583.75 204.69,557.50 218.14,557.50 231.58,588.75 245.03,650.00 258.47,707.50 271.92,724.25 285.37,706.25 298.81,662.50 312.26,610.00 325.70,591.75 339.15,589.50 352.60,593.00 366.04,620.00 379.49,630.75 392.93,635.00 406.38,603.75 419.83,582.00 433.27,588.75 446.72,618.75 460.16,675.00 473.61,706.25 487.06,712.50 500.50,692.50 513.95,676.25 527.39,662.00 540.84,680.00 554.29,700.00 567.73,716.75 581.18,716.75 594.62,702.50 608.07,681.25 621.52,652.00 634.96,659.25 648.41,700.00 661.85,725.00 675.30,721.25 688.75,680.00 702.19,610.00 715.64,567.50 729.08,550.50 742.53,549.25 755.98,562.50 769.42,602.50 782.87,632.50 796.31,655.00 809.76,632.50 823.21,608.75 836.65,572.00 850.10,562.00 863.54,575.75 876.99,627.50 890.44,667.50 903.88,659.50 917.33,625.00 930.77,591.25 944.22,583.25 957.67,578.00 971.11,585.00 984.56,582.50 998.00,573.75 1011.45,559.50 1024.90,551.75 1038.34,563.00 1051.79,580.00 1065.23,631.25 1078.68,677.50 1092.13,713.00 1105.57,722.00 1119.02,687.50 1132.46,652.50 1145.91,626.75 1159.36,635.00 1172.80,659.50 1186.25,675.00 1199.69,676.75 1213.14,635.00 1226.59,638.00 1240.03,648.75 1253.48,683.25 1266.92,696.25 1280.37,715.75 1293.82,723.25 1307.26,724.25 1320.71,709.25 1334.15,647.50 1347.60,593.25 1361.05,578.75 1374.49,588.00 1387.94,594.25 1401.38,579.50 1414.83,579.50 1428.28,585.00 1441.72,590.75 1455.17,570.00 1468.61,564.50 1482.06,575.00 1495.51,611.25 1508.95,662.50 1522.40,710.00 1535.84,717.50 1549.29,706.25 1562.74,667.50" stroke="#ff0000" stroke-width="1.5"/>
</g>
<line x1="1.7" y1="2.25" x2="1565" y2="2.25" stroke="#8a8a8a" stroke-width="1.3"/>
<line x1="2.25" y1="2" x2="2.25" y2="753" stroke="#8a8a8a" stroke-width="1.2"/>
<line x1="1564.5" y1="2" x2="1564.5" y2="546.9" stroke="#484848" stroke-width="1.05"/>
<line x1="2" y1="546.4" x2="1565" y2="546.4" stroke="#484848" stroke-width="1.1"/>
<line x1="2" y1="548.55" x2="1565" y2="548.55" stroke="#484848" stroke-width="1.1"/>
<line x1="1564.5" y1="548" x2="1564.5" y2="736" stroke="#484848" stroke-width="1.05"/>
<line x1="2" y1="735.5" x2="1565" y2="735.5" stroke="#484848" stroke-width="1.05"/>
<line x1="1564.5" y1="30.1" x2="1567.2" y2="30.1" stroke="#222" stroke-width="1"/>
<text class="pr" x="1569.3" y="33.0" textLength="27.2" lengthAdjust="spacingAndGlyphs">0.74740</text>
<line x1="1564.5" y1="61.3" x2="1567.2" y2="61.3" stroke="#222" stroke-width="1"/>
<text class="pr" x="1569.3" y="64.0" textLength="27.2" lengthAdjust="spacingAndGlyphs">0.74705</text>
<line x1="1564.5" y1="89.6" x2="1567.2" y2="89.6" stroke="#222" stroke-width="1"/>
<text class="pr" x="1569.3" y="93.0" textLength="27.2" lengthAdjust="spacingAndGlyphs">0.74675</text>
<line x1="1564.5" y1="120.4" x2="1567.2" y2="120.4" stroke="#222" stroke-width="1"/>
<text class="pr" x="1569.3" y="123.0" textLength="27.2" lengthAdjust="spacingAndGlyphs">0.74640</text>
<line x1="1564.5" y1="148.2" x2="1567.2" y2="148.2" stroke="#222" stroke-width="1"/>
<text class="pr" x="1569.3" y="151.0" textLength="27.2" lengthAdjust="spacingAndGlyphs">0.74610</text>
<line x1="1564.5" y1="179.6" x2="1567.2" y2="179.6" stroke="#222" stroke-width="1"/>
<text class="pr" x="1569.3" y="183.0" textLength="27.2" lengthAdjust="spacingAndGlyphs">0.74575</text>
<line x1="1564.5" y1="207.1" x2="1567.2" y2="207.1" stroke="#222" stroke-width="1"/>
<text class="pr" x="1569.3" y="210.0" textLength="27.2" lengthAdjust="spacingAndGlyphs">0.74545</text>
<line x1="1564.5" y1="238.0" x2="1567.2" y2="238.0" stroke="#222" stroke-width="1"/>
<text class="pr" x="1569.3" y="241.0" textLength="27.2" lengthAdjust="spacingAndGlyphs">0.74510</text>
<line x1="1564.5" y1="269.6" x2="1567.2" y2="269.6" stroke="#222" stroke-width="1"/>
<text class="pr" x="1569.3" y="273.0" textLength="27.2" lengthAdjust="spacingAndGlyphs">0.74475</text>
<line x1="1564.5" y1="302.4" x2="1567.2" y2="302.4" stroke="#222" stroke-width="1"/>
<text class="pr" x="1569.3" y="305.0" textLength="27.2" lengthAdjust="spacingAndGlyphs">0.74440</text>
<line x1="1564.5" y1="333.0" x2="1567.2" y2="333.0" stroke="#222" stroke-width="1"/>
<text class="pr" x="1569.3" y="336.0" textLength="27.2" lengthAdjust="spacingAndGlyphs">0.74405</text>
<line x1="1564.5" y1="360.9" x2="1567.2" y2="360.9" stroke="#222" stroke-width="1"/>
<text class="pr" x="1569.3" y="364.0" textLength="27.2" lengthAdjust="spacingAndGlyphs">0.74375</text>
<line x1="1564.5" y1="392.0" x2="1567.2" y2="392.0" stroke="#222" stroke-width="1"/>
<text class="pr" x="1569.3" y="395.0" textLength="27.2" lengthAdjust="spacingAndGlyphs">0.74340</text>
<line x1="1564.5" y1="419.4" x2="1567.2" y2="419.4" stroke="#222" stroke-width="1"/>
<text class="pr" x="1569.3" y="422.0" textLength="27.2" lengthAdjust="spacingAndGlyphs">0.74310</text>
<line x1="1564.5" y1="450.4" x2="1567.2" y2="450.4" stroke="#222" stroke-width="1"/>
<text class="pr" x="1569.3" y="453.0" textLength="27.2" lengthAdjust="spacingAndGlyphs">0.74275</text>
<line x1="1564.5" y1="478.5" x2="1567.2" y2="478.5" stroke="#222" stroke-width="1"/>
<text class="pr" x="1569.3" y="482.0" textLength="27.2" lengthAdjust="spacingAndGlyphs">0.74245</text>
<line x1="1564.5" y1="509.3" x2="1567.2" y2="509.3" stroke="#222" stroke-width="1"/>
<text class="pr" x="1569.3" y="512.0" textLength="27.2" lengthAdjust="spacingAndGlyphs">0.74210</text>
<line x1="1564.5" y1="541.2" x2="1567.2" y2="541.2" stroke="#222" stroke-width="1"/>
<text class="pr" x="1569.3" y="544.0" textLength="27.2" lengthAdjust="spacingAndGlyphs">0.74175</text>
<text class="pr" x="1566.8" y="557.0" textLength="12.2" lengthAdjust="spacingAndGlyphs">100</text>
<text class="pr" x="1566.8" y="608.0" textLength="8.1" lengthAdjust="spacingAndGlyphs">70</text>
<text class="pr" x="1566.8" y="683.0" textLength="8.1" lengthAdjust="spacingAndGlyphs">30</text>
<text class="pr" x="1566.8" y="733.0" textLength="4.0" lengthAdjust="spacingAndGlyphs">0</text>
<line x1="2.50" y1="735.5" x2="2.50" y2="739" stroke="#222" stroke-width="1"/>
<text class="ax" x="1.90" y="746" textLength="45.5" lengthAdjust="spacingAndGlyphs">25 May 2017</text>
<line x1="56.28" y1="735.5" x2="56.28" y2="739" stroke="#222" stroke-width="1"/>
<text class="ax" x="55.68" y="746" textLength="48.2" lengthAdjust="spacingAndGlyphs">25 May 19:45</text>
<line x1="110.07" y1="735.5" x2="110.07" y2="739" stroke="#222" stroke-width="1"/>
<text class="ax" x="109.47" y="746" textLength="48.2" lengthAdjust="spacingAndGlyphs">25 May 20:45</text>
<line x1="163.85" y1="735.5" x2="163.85" y2="739" stroke="#222" stroke-width="1"/>
<text class="ax" x="163.25" y="746" textLength="48.2" lengthAdjust="spacingAndGlyphs">25 May 21:45</text>
<line x1="217.64" y1="735.5" x2="217.64" y2="739" stroke="#222" stroke-width="1"/>
<text class="ax" x="217.04" y="746" textLength="48.2" lengthAdjust="spacingAndGlyphs">25 May 22:45</text>
<line x1="271.42" y1="735.5" x2="271.42" y2="739" stroke="#222" stroke-width="1"/>
<text class="ax" x="270.82" y="746" textLength="48.2" lengthAdjust="spacingAndGlyphs">25 May 23:45</text>
<line x1="325.20" y1="735.5" x2="325.20" y2="739" stroke="#222" stroke-width="1"/>
<text class="ax" x="324.60" y="746" textLength="48.2" lengthAdjust="spacingAndGlyphs">26 May 00:45</text>
<line x1="378.99" y1="735.5" x2="378.99" y2="739" stroke="#222" stroke-width="1"/>
<text class="ax" x="378.39" y="746" textLength="48.2" lengthAdjust="spacingAndGlyphs">26 May 01:45</text>
<line x1="432.77" y1="735.5" x2="432.77" y2="739" stroke="#222" stroke-width="1"/>
<text class="ax" x="432.17" y="746" textLength="48.2" lengthAdjust="spacingAndGlyphs">26 May 02:45</text>
<line x1="486.56" y1="735.5" x2="486.56" y2="739" stroke="#222" stroke-width="1"/>
<text class="ax" x="485.96" y="746" textLength="48.2" lengthAdjust="spacingAndGlyphs">26 May 03:45</text>
<line x1="540.34" y1="735.5" x2="540.34" y2="739" stroke="#222" stroke-width="1"/>
<text class="ax" x="539.74" y="746" textLength="48.2" lengthAdjust="spacingAndGlyphs">26 May 04:45</text>
<line x1="594.12" y1="735.5" x2="594.12" y2="739" stroke="#222" stroke-width="1"/>
<text class="ax" x="593.52" y="746" textLength="48.2" lengthAdjust="spacingAndGlyphs">26 May 05:45</text>
<line x1="647.91" y1="735.5" x2="647.91" y2="739" stroke="#222" stroke-width="1"/>
<text class="ax" x="647.31" y="746" textLength="48.2" lengthAdjust="spacingAndGlyphs">26 May 06:45</text>
<line x1="701.69" y1="735.5" x2="701.69" y2="739" stroke="#222" stroke-width="1"/>
<text class="ax" x="701.09" y="746" textLength="48.2" lengthAdjust="spacingAndGlyphs">26 May 07:45</text>
<line x1="755.48" y1="735.5" x2="755.48" y2="739" stroke="#222" stroke-width="1"/>
<text class="ax" x="754.88" y="746" textLength="48.2" lengthAdjust="spacingAndGlyphs">26 May 08:45</text>
<line x1="809.26" y1="735.5" x2="809.26" y2="739" stroke="#222" stroke-width="1"/>
<text class="ax" x="808.66" y="746" textLength="48.2" lengthAdjust="spacingAndGlyphs">26 May 09:45</text>
<line x1="863.04" y1="735.5" x2="863.04" y2="739" stroke="#222" stroke-width="1"/>
<text class="ax" x="862.44" y="746" textLength="48.2" lengthAdjust="spacingAndGlyphs">26 May 10:45</text>
<line x1="916.83" y1="735.5" x2="916.83" y2="739" stroke="#222" stroke-width="1"/>
<text class="ax" x="916.23" y="746" textLength="48.2" lengthAdjust="spacingAndGlyphs">26 May 11:45</text>
<line x1="970.61" y1="735.5" x2="970.61" y2="739" stroke="#222" stroke-width="1"/>
<text class="ax" x="970.01" y="746" textLength="48.2" lengthAdjust="spacingAndGlyphs">26 May 12:45</text>
<line x1="1024.40" y1="735.5" x2="1024.40" y2="739" stroke="#222" stroke-width="1"/>
<text class="ax" x="1023.80" y="746" textLength="48.2" lengthAdjust="spacingAndGlyphs">26 May 13:45</text>
<line x1="1078.18" y1="735.5" x2="1078.18" y2="739" stroke="#222" stroke-width="1"/>
<text class="ax" x="1077.58" y="746" textLength="48.2" lengthAdjust="spacingAndGlyphs">26 May 14:45</text>
<line x1="1131.96" y1="735.5" x2="1131.96" y2="739" stroke="#222" stroke-width="1"/>
<text class="ax" x="1131.36" y="746" textLength="48.2" lengthAdjust="spacingAndGlyphs">26 May 15:45</text>
<line x1="1185.75" y1="735.5" x2="1185.75" y2="739" stroke="#222" stroke-width="1"/>
<text class="ax" x="1185.15" y="746" textLength="48.2" lengthAdjust="spacingAndGlyphs">26 May 16:45</text>
<line x1="1239.53" y1="735.5" x2="1239.53" y2="739" stroke="#222" stroke-width="1"/>
<text class="ax" x="1238.93" y="746" textLength="48.2" lengthAdjust="spacingAndGlyphs">26 May 17:45</text>
<line x1="1293.32" y1="735.5" x2="1293.32" y2="739" stroke="#222" stroke-width="1"/>
<text class="ax" x="1292.72" y="746" textLength="48.2" lengthAdjust="spacingAndGlyphs">26 May 18:45</text>
<line x1="1347.10" y1="735.5" x2="1347.10" y2="739" stroke="#222" stroke-width="1"/>
<text class="ax" x="1346.50" y="746" textLength="48.2" lengthAdjust="spacingAndGlyphs">26 May 19:45</text>
<line x1="1400.88" y1="735.5" x2="1400.88" y2="739" stroke="#222" stroke-width="1"/>
<text class="ax" x="1400.28" y="746" textLength="48.2" lengthAdjust="spacingAndGlyphs">26 May 20:45</text>
<line x1="1454.67" y1="735.5" x2="1454.67" y2="739" stroke="#222" stroke-width="1"/>
<text class="ax" x="1454.07" y="746" textLength="48.2" lengthAdjust="spacingAndGlyphs">26 May 21:45</text>
<line x1="1508.45" y1="735.5" x2="1508.45" y2="739" stroke="#222" stroke-width="1"/>
<text class="ax" x="1507.85" y="746" textLength="48.2" lengthAdjust="spacingAndGlyphs">26 May 22:45</text>
<line x1="1562.24" y1="735.5" x2="1562.24" y2="739" stroke="#222" stroke-width="1"/>
<text class="ax" x="1561.64" y="746" textLength="36.8" lengthAdjust="spacingAndGlyphs">26 May 23</text>
<text class="se" x="484.6" y="57.2" font-size="27.8" textLength="597.2" lengthAdjust="spacingAndGlyphs">Stochastic and Parabolic SAR Day Trading Strategy</text>
<circle cx="782" cy="30.8" r="0.7" fill="#000"/>
<text class="se" x="11.6" y="508.6" font-size="27.3" textLength="280" lengthAdjust="spacingAndGlyphs">Learn-ForexTrading.org</text>
<text class="se" x="17.10" y="25.75" font-size="16.8" textLength="25.1" lengthAdjust="spacingAndGlyphs">Sell</text>
<text class="se" x="165.35" y="148.00" font-size="16.8" textLength="25.1" lengthAdjust="spacingAndGlyphs">Sell</text>
<text class="se" x="285.85" y="149.00" font-size="16.8" textLength="25.3" lengthAdjust="spacingAndGlyphs">Sell</text>
<text class="se" x="689.10" y="381.00" font-size="16.8" textLength="25.3" lengthAdjust="spacingAndGlyphs">Sell</text>
<text class="se" x="862.70" y="508.50" font-size="16.8" textLength="27.1" lengthAdjust="spacingAndGlyphs">Buy</text>
<text class="se" x="1064.30" y="372.80" font-size="16.8" textLength="27.0" lengthAdjust="spacingAndGlyphs">Buy</text>
<text class="se" x="1158.20" y="390.70" font-size="16.8" textLength="27.6" lengthAdjust="spacingAndGlyphs">Buy</text>
<use href="#ad" x="29.60" y="53.95"/>
<use href="#ad" x="177.50" y="168.95"/>
<use href="#ad" x="298.50" y="188.45"/>
<use href="#ad" x="702.00" y="401.45"/>
<use href="#ad" x="1347.50" y="280.30"/>
<use href="#au" x="876.75" y="464.40"/>
<use href="#au" x="1078.30" y="328.00"/>
<use href="#au" x="1172.00" y="334.60"/>
</svg></body></html>
